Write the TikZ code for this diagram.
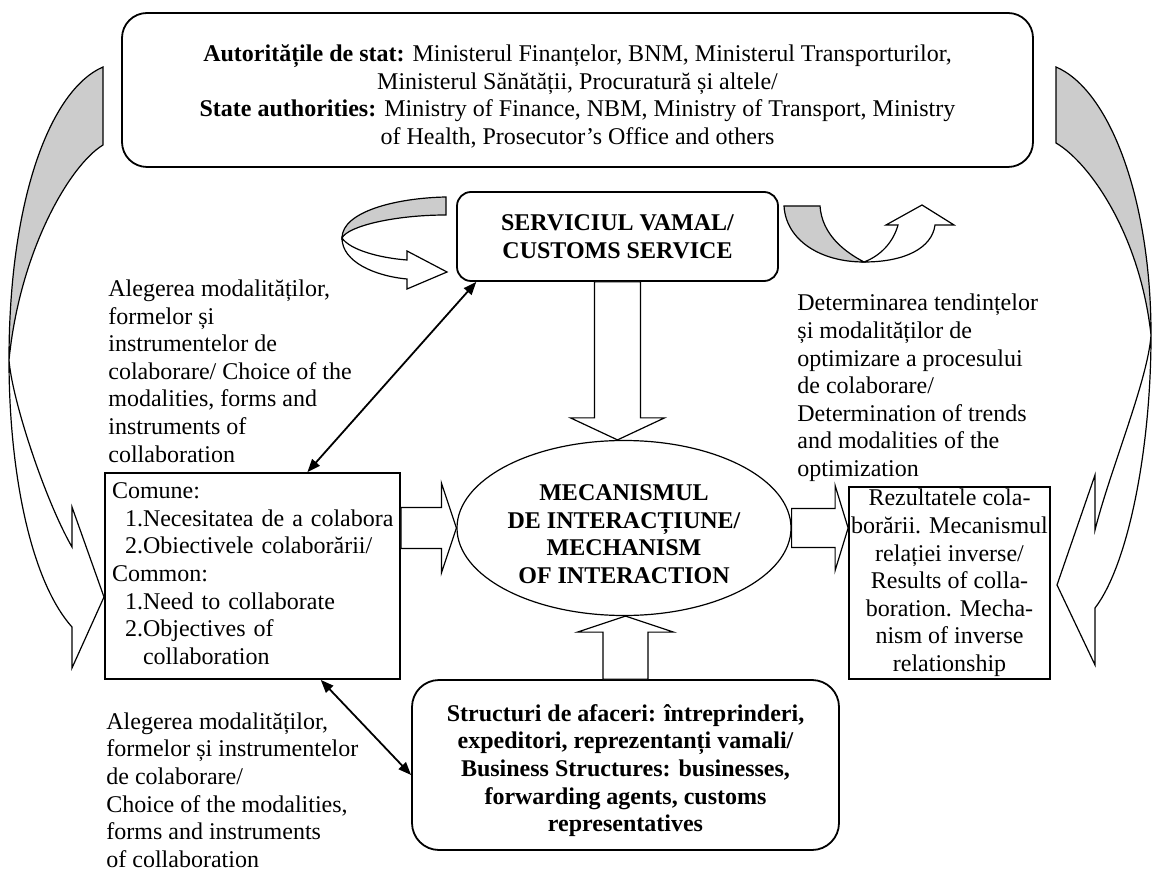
\documentclass[tikz,border=0pt]{standalone}
\usepackage{fontspec}
\setmainfont{Liberation Serif}
\usetikzlibrary{calc,arrows.meta,shapes.geometric}

\tikzset{
  txt/.style={font=\fontsize{12}{13.8}\selectfont, inner sep=0pt, align=left},
  roundbox/.style={draw, line width=0.9pt, rounded corners=#1, align=center, font=\fontsize{12}{13.8}\selectfont},
  plainbox/.style={draw, line width=0.9pt, font=\fontsize{12}{13.8}\selectfont},
  duo/.style={line width=0.9pt, {Triangle[length=6.5pt,width=5pt]}-{Triangle[length=6.5pt,width=5pt]}},
  ribbon/.style={draw, line width=0.6pt, fill=#1},
  ribbon/.default=white,
  barrow/.style n args={3}{draw, fill=white, line width=0.6pt,
    to path={let \p1=(\tikztostart), \p2=(\tikztotarget), \p3=($(\p2)!#3!(\p1)$) in
      ($(\p1)!#1!90:(\p2)$) -- ($(\p3)!#1!90:(\p2)$) -- ($(\p3)!#2!90:(\p2)$) -- (\p2)
      -- ($(\p3)!#2!-90:(\p2)$) -- ($(\p3)!#1!-90:(\p2)$) -- ($(\p1)!#1!-90:(\p2)$) -- cycle}}
}

\begin{document}
\begin{tikzpicture}[x=0.5pt, y=-0.5pt]
\useasboundingbox (0,0) rectangle (1154,870);

\node[roundbox=12.5pt, minimum width=455.5pt, minimum height=77pt] (state) at (577.5,90) {\rule{0pt}{15pt}\textbf{Autoritățile de stat:} Ministerul Finanțelor, BNM, Ministerul Transporturilor,\\ Ministerul Sănătății, Procuratură și altele/\\ \textbf{State authorities:} Ministry of Finance, NBM, Ministry of Transport, Ministry\\ of Health, Prosecutor’s Office and others};
\node[roundbox=7pt, minimum width=160.5pt, minimum height=44.5pt, font=\fontsize{12}{13.8}\selectfont\bfseries] (customs) at (617.5,236.5) {SERVICIUL VAMAL/\\ CUSTOMS SERVICE};
\node[draw, ellipse, line width=0.6pt, minimum width=167pt, minimum height=87.5pt, inner sep=0pt, align=center, font=\fontsize{12}{13.8}\selectfont\bfseries] (mech) at (624,528) {\rule{0pt}{14pt}MECANISMUL\\ DE INTERACȚIUNE/\\ MECHANISM\\ OF INTERACTION};
\node[plainbox, text width=140.5pt, inner xsep=3.5pt, inner ysep=1pt, minimum height=103pt, align=left] (comune) at (252.5,576) {\begin{tabular}{@{}l@{}}Comune:\\ \hspace*{6.5pt}1.Necesitatea de a colabora\\ \hspace*{6.5pt}2.Obiectivele colaborării/\\ Common:\\ \hspace*{6.5pt}1.Need to collaborate\\ \hspace*{6.5pt}2.Objectives of\\ \hspace*{15.5pt}collaboration\end{tabular}};
\node[plainbox, minimum width=100.5pt, minimum height=96pt, inner sep=1pt, align=center] (results) at (949.5,583) {Rezultatele cola-\\ borării. Mecanismul\\ relației inverse/\\ Results of colla-\\ boration. Mecha-\\ nism of inverse\\ relationship};
\node[roundbox=13.5pt, minimum width=213.5pt, minimum height=85pt, font=\fontsize{12}{13.8}\selectfont\bfseries] (business) at (625.5,765) {\rule{0pt}{14pt}Structuri de afaceri: întreprinderi,\\ expeditori, reprezentanți vamali/\\ Business Structures: businesses,\\ forwarding agents, customs\\ representatives};

\node[txt, anchor=west] (choiceup) at (108,371) {Alegerea modalităților,\\ formelor și\\ instrumentelor de\\ colaborare/ Choice of the\\ modalities, forms and\\ instruments of\\ collaboration};
\node[txt, anchor=west] (choicedown) at (106,790) {Alegerea modalităților,\\ formelor și instrumentelor\\ de colaborare/\\ Choice of the modalities,\\ forms and instruments\\ of collaboration};
\node[txt, anchor=west] (trends) at (797,388) {Determinarea tendințelor\\ și modalităților de\\ optimizare a procesului\\ de colaborare/\\ Determination of trends\\ and modalities of the\\ optimization};

\draw[barrow={11.5pt}{23.5pt}{11pt}] (customs.south) to (customs.south |- mech.north);
\draw[barrow={11.25pt}{24pt}{8pt}] (business.north) to (business.north |- mech.south);
\draw[barrow={10.25pt}{22.5pt}{7.5pt}] (comune.east |- mech.west) to (mech.west);
\draw[barrow={9.75pt}{21.25pt}{6.5pt}] (mech.east) to (results.west |- mech.east);

\draw[duo] ($(comune.north west)!0.685!(comune.north east)$) -- ($(customs.south west)!0.0625!(customs.south east)$);
\draw[duo] ($(comune.south west)!0.73!(comune.south east)$) -- ($(business.west)+(0,10)$);

\draw[ribbon=black!20] (103,67) .. controls (50,90) and (9,200) .. (9,360) .. controls (20,250) and (70,165) .. (103,145) -- cycle;
\draw[ribbon] (9,360) .. controls (9,470) and (30,580) .. (72,627) -- (72,668) -- (104,597) -- (72,507) -- (72,547) .. controls (45,500) and (12,400) .. (9,360) -- cycle;

\draw[ribbon=black!20] (1056,67) .. controls (1110,90) and (1151,200) .. (1151,335) .. controls (1140,235) and (1090,163) .. (1056,143) -- cycle;
\draw[ribbon] (1151,335) .. controls (1151,450) and (1128,565) .. (1095,608) -- (1095,665) -- (1057,585) -- (1095,475) -- (1095,530) .. controls (1110,470) and (1148,380) .. (1151,335) -- cycle;

\draw[ribbon=black!20] (446,197) .. controls (395,198) and (342,212) .. (342,238) .. controls (348,226) and (395,215) .. (446,215) -- cycle;
\draw[ribbon] (342,238) .. controls (342,262) and (375,276) .. (407,279) -- (407,289) -- (447,272) -- (407,251) -- (407,260) .. controls (380,258) and (350,250) .. (342,238) -- cycle;

\draw[ribbon=black!20] (784,206) .. controls (786,240) and (820,262) .. (864,262) .. controls (845,252) and (822,235) .. (820,206) -- cycle;
\draw[ribbon] (864,262) .. controls (905,262) and (932,248) .. (935,225) -- (954,225) -- (922,205) -- (886,225) -- (898,225) .. controls (893,243) and (880,256) .. (864,262) -- cycle;
\end{tikzpicture}
\end{document}
